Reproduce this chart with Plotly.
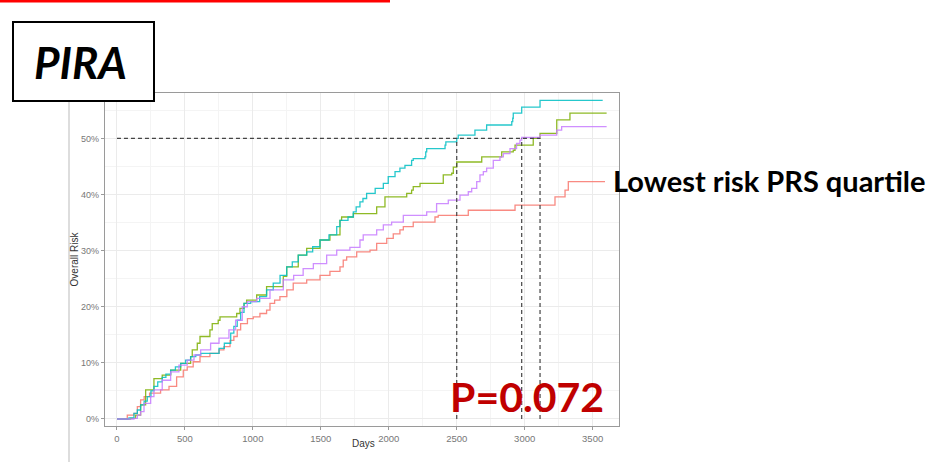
import plotly.graph_objects as go

# ---- data ----
red_days = [0, 76, 125, 150, 174, 200, 240, 321, 383, 439, 488, 517, 561, 611, 684, 751, 787, 832, 860, 885, 910, 960, 1003, 1052, 1101, 1126, 1160, 1199, 1250, 1297, 1396, 1494, 1567, 1641, 1665, 1690, 1764, 1862, 1911, 1985, 2033, 2082, 2107, 2180, 2340, 2364, 2585, 2929, 3223, 3297, 3321, 3591]
red_risk = [0, 0.7, 1.0, 2.2, 3.4, 4.0, 4.6, 5.2, 5.8, 7.5, 8.7, 9.3, 10.2, 11.1, 11.7, 12.3, 12.9, 14.0, 14.7, 15.9, 17.0, 17.9, 18.2, 18.8, 19.4, 20.6, 21.2, 21.8, 23.0, 24.2, 24.8, 25.6, 26.3, 27.1, 28.3, 28.9, 29.8, 30.1, 31.3, 32.2, 33.0, 33.7, 34.3, 35.1, 36.0, 36.3, 37.2, 38.1, 39.6, 40.8, 42.3, 42.3]

green_days = [0, 100, 137, 174, 211, 272, 333, 395, 469, 542, 554, 591, 611, 684, 701, 745, 758, 881, 905, 935, 954, 1028, 1101, 1224, 1249, 1334, 1396, 1494, 1567, 1641, 1653, 1739, 1911, 1972, 2132, 2168, 2180, 2230, 2401, 2463, 2475, 2500, 2684, 2831, 2916, 2929, 3063, 3113, 3236, 3333, 3603]
green_risk = [0, 0.1, 0.7, 2.5, 5.2, 7.2, 7.8, 8.7, 9.9, 11.1, 12.3, 13.5, 14.7, 15.9, 17.0, 17.6, 18.2, 18.8, 19.7, 20.6, 21.2, 22.1, 23.6, 25.4, 27.1, 29.2, 30.4, 31.9, 32.8, 35.4, 36.0, 36.6, 37.8, 39.6, 40.2, 40.8, 41.4, 42.0, 43.5, 43.8, 44.9, 45.8, 46.7, 47.6, 47.9, 48.8, 50.0, 50.9, 53.3, 54.5, 54.5]

cyan_days = [0, 88, 125, 150, 174, 200, 223, 250, 272, 300, 333, 360, 395, 430, 469, 505, 542, 580, 616, 751, 790, 837, 860, 885, 910, 935, 984, 1050, 1101, 1150, 1200, 1249, 1290, 1334, 1396, 1440, 1494, 1560, 1617, 1641, 1700, 1739, 1760, 1788, 1810, 1837, 1900, 1960, 1996, 2046, 2082, 2119, 2168, 2180, 2266, 2272, 2279, 2414, 2420, 2500, 2511, 2634, 2720, 2905, 2912, 2916, 2978, 3113, 3574]
cyan_risk = [0, 0.2, 1.0, 1.6, 2.5, 3.2, 4.0, 5.0, 5.8, 6.6, 7.4, 8.0, 8.7, 9.3, 9.9, 10.5, 11.1, 11.4, 11.7, 12.6, 13.5, 15.3, 16.5, 17.6, 19.0, 20.6, 20.9, 21.8, 23.0, 24.2, 25.6, 27.1, 28.0, 29.2, 29.8, 30.7, 31.9, 32.8, 34.3, 35.4, 36.0, 36.9, 37.8, 38.7, 39.3, 40.2, 41.1, 42.0, 43.2, 44.1, 44.7, 45.2, 46.1, 46.4, 46.7, 47.6, 48.2, 48.8, 49.4, 50.0, 50.6, 51.5, 52.4, 53.0, 53.6, 54.5, 55.6, 56.8, 56.8]

purple_days = [0, 125, 150, 174, 199, 248, 272, 333, 395, 456, 517, 567, 616, 689, 751, 824, 873, 922, 959, 1028, 1126, 1224, 1300, 1370, 1445, 1543, 1617, 1714, 1788, 1812, 1911, 1960, 2021, 2107, 2279, 2352, 2438, 2524, 2585, 2610, 2647, 2671, 2696, 2720, 2769, 2818, 2843, 2892, 2940, 2965, 2978, 3113, 3236, 3272, 3603]
purple_risk = [0, 0.1, 0.7, 1.3, 2.8, 4.0, 5.2, 6.9, 8.4, 9.6, 10.5, 11.4, 12.3, 13.5, 14.4, 15.9, 17.6, 20.0, 20.9, 21.5, 23.0, 24.8, 25.6, 26.8, 27.7, 29.2, 30.1, 30.6, 31.9, 32.8, 33.7, 34.6, 35.1, 36.3, 36.9, 38.4, 39.0, 39.9, 40.5, 41.1, 42.3, 43.5, 44.1, 44.7, 46.1, 46.7, 47.3, 48.2, 49.1, 49.7, 50.2, 50.6, 51.5, 52.1, 52.1]

median_days = [2500, 2978, 3113]
median_level = 50

x_ticks = [0, 500, 1000, 1500, 2000, 2500, 3000, 3500]
y_ticks = [0, 10, 20, 30, 40, 50]
y_tick_labels = ["0%", "10%", "20%", "30%", "40%", "50%"]

series = [
    ("Q1", red_days, red_risk, "#F8766D"),
    ("Q2", green_days, green_risk, "#7CAE00"),
    ("Q3", cyan_days, cyan_risk, "#00BFC4"),
    ("Q4", purple_days, purple_risk, "#C77CFF"),
]

# ---- layout geometry (pixels) ----
W, H = 941, 462
PL, PR, PT, PB = 105, 619, 93, 426


def px(x):
    return (x - PL) / (PR - PL)


def py(y):
    return (PB - y) / (PB - PT)


fig = go.Figure()

for name, d, r, c in series:
    fig.add_trace(go.Scatter(x=d, y=r, mode="lines", name=name,
                             line=dict(color=c, width=1.3, shape="hv"),
                             opacity=0.85, showlegend=False, hoverinfo="skip"))

# median reference lines
fig.add_trace(go.Scatter(x=[0, max(median_days)], y=[median_level, median_level], mode="lines",
                         line=dict(color="#444444", width=1.2, dash="4px,3px"),
                         showlegend=False, hoverinfo="skip"))
for md in median_days:
    fig.add_trace(go.Scatter(x=[md, md], y=[0, median_level], mode="lines",
                             line=dict(color="#444444", width=1.2, dash="4px,3px"),
                             showlegend=False, hoverinfo="skip"))

fig.update_layout(
    width=W, height=H, autosize=False,
    margin=dict(l=PL, r=W - PR, t=PT, b=H - PB, pad=0),
    paper_bgcolor="white", plot_bgcolor="white",
    font=dict(family="Liberation Sans, Arial, sans-serif"),
    xaxis=dict(range=[-88, 3694], tickvals=x_ticks, showgrid=True, gridcolor="#ebebeb", gridwidth=1,
               minor=dict(dtick=250, tick0=0, showgrid=True, gridcolor="#f4f4f4", gridwidth=1),
               zeroline=False, showline=True, mirror=True, linecolor="#9a9a9a", linewidth=1.2,
               ticks="outside", ticklen=3, tickcolor="#9a9a9a", automargin=False,
               tickfont=dict(size=9.5, color="#777777")),
    yaxis=dict(range=[-1.25, 58.1], tickvals=y_ticks, ticktext=y_tick_labels, showgrid=True,
               gridcolor="#ebebeb", gridwidth=1,
               minor=dict(dtick=5, tick0=0, showgrid=True, gridcolor="#f4f4f4", gridwidth=1),
               zeroline=False, showline=True, mirror=True, linecolor="#9a9a9a", linewidth=1.2,
               ticks="outside", ticklen=3, tickcolor="#9a9a9a", automargin=False,
               tickfont=dict(size=9, color="#777777"),
               title=dict(text="Overall Risk", font=dict(size=10, color="#333333"), standoff=0)),
)

shapes = [
    # red bar at the top of the slide
    dict(type="rect", xref="paper", yref="paper", x0=px(0), x1=px(390), y0=py(0), y1=py(2.5),
         fillcolor="#FF0000", line=dict(width=0), layer="above"),
    # faint vertical line at left of the slide
    dict(type="line", xref="paper", yref="paper", x0=px(69), x1=px(69), y0=py(100), y1=py(462),
         line=dict(color="#dddddd", width=2), layer="above"),
    # PIRA box
    dict(type="rect", xref="paper", yref="paper", x0=px(13), x1=px(154), y0=py(22), y1=py(101),
         fillcolor="white", line=dict(color="black", width=2), layer="above"),
]
fig.update_layout(shapes=shapes)

# x axis title
fig.add_annotation(xref="paper", yref="paper", x=px(363), y=py(444), text="Days",
                   showarrow=False, xanchor="center", yanchor="middle",
                   font=dict(size=10, color="#333333"))

fig.add_annotation(xref="paper", yref="paper", x=px(80), y=py(62), text="<b><i>PIRA</i></b>",
                   showarrow=False, xanchor="center", yanchor="middle",
                   font=dict(family="Lato, Open Sans, sans-serif", size=44, color="black"))
fig.add_annotation(xref="paper", yref="paper", x=px(611), y=py(180), text="<b>Lowest risk PRS quartile</b>",
                   showarrow=False, xanchor="left", yanchor="middle",
                   font=dict(family="Lato, Open Sans, sans-serif", size=29, color="black"))
fig.add_annotation(xref="paper", yref="paper", x=px(606), y=py(396), text="<b>P=0.072</b>",
                   showarrow=False, xanchor="right", yanchor="middle",
                   font=dict(family="Lato, Open Sans, sans-serif", size=41, color="#C00000"))

fig.write_html("out.html", config={"displayModeBar": False},
               post_script="document.body.style.margin='0px';")
